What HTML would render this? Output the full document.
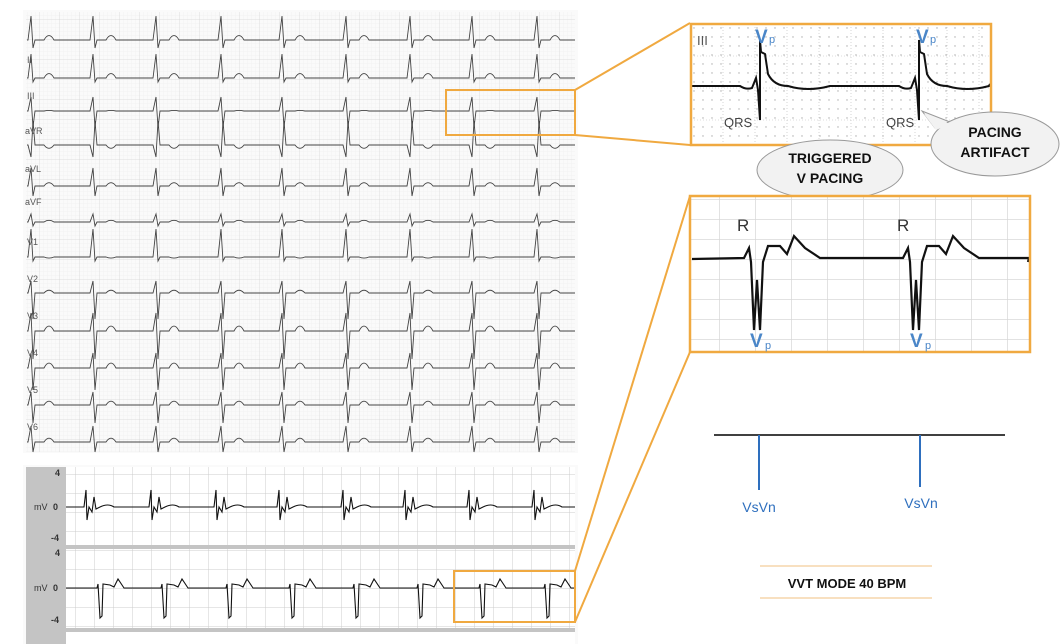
<!DOCTYPE html>
<html><head><meta charset="utf-8"><style>
html,body{margin:0;padding:0;background:#fff;width:1061px;height:644px;overflow:hidden}
svg{display:block}
text{font-family:"Liberation Sans",sans-serif}
</style></head><body>
<svg id="s" width="1061" height="644" viewBox="0 0 1061 644" xmlns="http://www.w3.org/2000/svg">
<defs>
<pattern id="g1" width="4" height="4" patternUnits="userSpaceOnUse"><path d="M4 0V4H0" fill="none" stroke="#ececec" stroke-width="0.5"/></pattern>
<pattern id="g2" width="20" height="20" patternUnits="userSpaceOnUse"><path d="M20 0V20H0" fill="none" stroke="#d6d6d6" stroke-width="0.7"/></pattern>
<pattern id="g3" width="19" height="19" patternUnits="userSpaceOnUse"><path d="M19 0V19H0" fill="none" stroke="#cccccc" stroke-width="1"/></pattern>
<pattern id="g4" width="36" height="20" patternUnits="userSpaceOnUse"><path d="M36 0V20H0" fill="none" stroke="#d8d8d8" stroke-width="1.5"/></pattern>
<pattern id="g5" width="9" height="9" patternUnits="userSpaceOnUse"><circle cx="1" cy="1" r="0.7" fill="#aaa"/></pattern>
</defs>
<rect x="23" y="10" width="555" height="443" fill="#fafafa"/>
<rect x="26" y="12" width="549" height="440" fill="url(#g1)"/>
<rect x="26" y="12" width="549" height="440" fill="url(#g2)"/>
<g id="top" fill="none" stroke="#444" stroke-width="0.9"></g>
<g font-family="Liberation Serif" font-size="9" fill="#555">
<text x="27" y="63" font-family="Liberation Serif">II</text><text x="27" y="99" font-family="Liberation Serif">III</text><text x="25" y="134" font-family="Liberation Serif">aVR</text><text x="25" y="172" font-family="Liberation Serif">aVL</text><text x="25" y="205" font-family="Liberation Serif">aVF</text><text x="27" y="245" font-family="Liberation Serif">V1</text><text x="27" y="282" font-family="Liberation Serif">V2</text><text x="27" y="319" font-family="Liberation Serif">V3</text><text x="27" y="356" font-family="Liberation Serif">V4</text><text x="27" y="393" font-family="Liberation Serif">V5</text><text x="27" y="430" font-family="Liberation Serif">V6</text></g>
<rect x="23" y="465" width="555" height="179" fill="#fafafa"/>
<rect x="26" y="467" width="40" height="177" fill="#c4c4c4"/>
<rect x="66" y="467" width="509" height="78" fill="#fff"/>
<rect x="66" y="467" width="509" height="78" fill="url(#g3)"/>
<rect x="66" y="549" width="509" height="79" fill="#fff"/>
<rect x="66" y="549" width="509" height="79" fill="url(#g3)"/>
<rect x="26" y="545" width="549" height="4" fill="#c4c4c4"/>
<rect x="26" y="628" width="549" height="4" fill="#c4c4c4"/>
<rect x="66" y="632" width="509" height="12" fill="#fff"/>
<g font-size="9" fill="#333"><text x="55" y="476" font-weight="bold">4</text><text x="34" y="510">mV</text><text x="53" y="510" font-weight="bold">0</text><text x="51" y="541" font-weight="bold">-4</text>
<text x="55" y="556" font-weight="bold">4</text><text x="34" y="591">mV</text><text x="53" y="591" font-weight="bold">0</text><text x="51" y="623" font-weight="bold">-4</text></g>
<g id="bot" fill="none" stroke="#111" stroke-width="1.1"></g>
<g fill="none" stroke="#f0a940" stroke-width="2">
<rect x="446" y="90" width="129" height="45"/>
<line x1="575" y1="90" x2="690" y2="23"/><line x1="575" y1="135" x2="690" y2="145"/>
<rect x="454" y="571" width="121" height="51"/>
<line x1="575" y1="571" x2="690" y2="196"/><line x1="575" y1="622" x2="690" y2="352"/>
</g>
<rect x="691" y="24" width="300" height="121" fill="#fff"/>
<rect x="691" y="24" width="300" height="121" fill="url(#g5)"/>
<path d="M691 24V145M723 24V145M755 24V145M787 24V145M819 24V145M851 24V145M883 24V145M915 24V145M947 24V145M979 24V145M691 56H991M691 88H991M691 120H991" stroke="#bbb" stroke-width="0.6" stroke-dasharray="1 2"/>
<path id="z1" fill="none" stroke="#111" stroke-width="2"/>
<rect x="691" y="24" width="300" height="121" fill="none" stroke="#f0a940" stroke-width="2.5"/>
<text x="697" y="45" font-size="13" fill="#555">III</text>
<text x="755" y="43" font-size="19" font-weight="bold" fill="#4a86c8">V</text><text x="769" y="43" font-size="11" fill="#4a86c8">p</text>
<text x="916" y="43" font-size="19" font-weight="bold" fill="#4a86c8">V</text><text x="930" y="43" font-size="11" fill="#4a86c8">p</text>
<text x="724" y="127" font-size="13" fill="#444">QRS</text><text x="886" y="127" font-size="13" fill="#444">QRS</text>
<path d="M935 128 L922 111 L950 122 Z" fill="#f2f2f2" stroke="#999" stroke-width="1"/>
<ellipse cx="995" cy="144" rx="64" ry="32" fill="#f2f2f2" stroke="#999" stroke-width="1"/>
<path d="M936 130 L924 114 L950 124" fill="#f2f2f2" stroke="none"/>
<text x="995" y="137" font-size="14" font-weight="bold" text-anchor="middle" fill="#111">PACING</text>
<text x="995" y="157" font-size="14" font-weight="bold" text-anchor="middle" fill="#111">ARTIFACT</text>
<ellipse cx="830" cy="170" rx="73" ry="30" fill="#f2f2f2" stroke="#999" stroke-width="1"/>
<text x="830" y="163" font-size="14" font-weight="bold" text-anchor="middle" fill="#111">TRIGGERED</text>
<text x="830" y="183" font-size="14" font-weight="bold" text-anchor="middle" fill="#111">V PACING</text>
<rect x="690" y="196" width="340" height="156" fill="#fff"/>
<rect x="690" y="196" width="340" height="156" fill="url(#g4)"/>
<path id="z2" fill="none" stroke="#111" stroke-width="2.2"/>
<rect x="690" y="196" width="340" height="156" fill="none" stroke="#f0a940" stroke-width="2.5"/>
<text x="737" y="231" font-size="17" fill="#333">R</text><text x="897" y="231" font-size="17" fill="#333">R</text>
<text x="750" y="347" font-size="19" font-weight="bold" fill="#4a86c8">V</text><text x="765" y="349" font-size="11" fill="#4a86c8">p</text>
<text x="910" y="347" font-size="19" font-weight="bold" fill="#4a86c8">V</text><text x="925" y="349" font-size="11" fill="#4a86c8">p</text>
<line x1="714" y1="435" x2="1005" y2="435" stroke="#000" stroke-width="1.5"/>
<line x1="759" y1="435" x2="759" y2="490" stroke="#2e6fbe" stroke-width="2"/>
<line x1="920" y1="435" x2="920" y2="487" stroke="#2e6fbe" stroke-width="2"/>
<text x="759" y="512" font-size="14" text-anchor="middle" fill="#2e6fbe">VsVn</text>
<text x="921" y="508" font-size="14" text-anchor="middle" fill="#2e6fbe">VsVn</text>
<line x1="760" y1="566" x2="932" y2="566" stroke="#f0c080" stroke-width="1"/>
<line x1="760" y1="598" x2="932" y2="598" stroke="#f0c080" stroke-width="1"/>
<text x="847" y="588" font-size="13" font-weight="bold" text-anchor="middle" fill="#111">VVT MODE 40 BPM</text>
</svg>
<script>
var NS="http://www.w3.org/2000/svg";
function add(g,d){var p=document.createElementNS(NS,"path");p.setAttribute("d",d);document.getElementById(g).appendChild(p);}
var beats=[31,93,156,221,282,346,410,472,537];
var rows=[[40,-24,8,8],[78,-24,4,8],[111,-14,16,1],[145,12,-24,-6],[186,-18,10,6],[222,-8,4,3],[257,-28,4,-2],[293,-12,26,5],[331,-18,28,9],[368,-15,22,9],[405,-13,18,7],[442,-16,10,7]];
rows.forEach(function(r){var y=r[0],d="M27 "+y;beats.forEach(function(b){
 d+=" L"+(b-3)+" "+y+" L"+b+" "+(y+r[1])+" L"+(b+2)+" "+(y+r[2])+" L"+(b+4)+" "+y+" L"+(b+13)+" "+y+" Q"+(b+18)+" "+(y-r[3]*1.1)+" "+(b+23)+" "+y;});
 d+=" L575 "+y;add("top",d);});
var b1=[86,151,216,279,343,405,469,534],y1=507,d="M66 "+y1;
b1.forEach(function(b){d+=" L"+(b-2)+" "+y1+" L"+b+" "+(y1-17)+" L"+(b+1)+" "+(y1+13)+" L"+(b+3)+" "+y1+" L"+(b+6)+" "+(y1+5)+" L"+(b+8)+" "+(y1-10)+" L"+(b+10)+" "+(y1+2)+" L"+(b+14)+" "+y1+" Q"+(b+22)+" "+(y1-4)+" "+(b+28)+" "+y1;});
d+=" L575 "+y1;add("bot",d);
var b2=[100,164,229,292,356,420,482,547],y2=588;d="M66 "+y2;
b2.forEach(function(b){d+=" L"+(b-3)+" "+y2+" L"+(b-2)+" "+(y2-4)+" L"+b+" "+(y2+30)+" L"+(b+2)+" "+(y2+28)+" L"+(b+3)+" "+(y2-4)+" L"+(b+10)+" "+(y2-3)+" L"+(b+14)+" "+(y2-1)+" L"+(b+18)+" "+(y2-9)+" L"+(b+24)+" "+y2;});
d+=" L575 "+y2;add("bot",d);
var z1="M692 86";[760,919].forEach(function(b){z1+=" L"+(b-20)+" 86 Q"+(b-14)+" 90 "+(b-8)+" 88 L"+(b-4)+" 78 L"+(b-2)+" 90 L"+b+" 120 L"+b+" 40 L"+(b+1)+" 52 L"+(b+5)+" 54 L"+(b+8)+" 74 Q"+(b+14)+" 86 "+(b+28)+" 86 Q"+(b+48)+" 92 "+(b+70)+" 86";});
z1+=" L990 84";document.getElementById("z1").setAttribute("d",z1);
var z2="M692 259";[760,919].forEach(function(b){z2+=" L"+(b-16)+" 258 L"+(b-11)+" 248 L"+(b-9)+" 262 L"+(b-6)+" 330 L"+(b-3)+" 280 L"+(b)+" 330 L"+(b+3)+" 262 L"+(b+8)+" 246 L"+(b+20)+" 246 L"+(b+27)+" 254 L"+(b+34)+" 236 L"+(b+45)+" 248 L"+(b+60)+" 258 L"+(b+110)+" 258";});
z2+=" L1028 262";document.getElementById("z2").setAttribute("d",z2);
</script>
</body></html>
